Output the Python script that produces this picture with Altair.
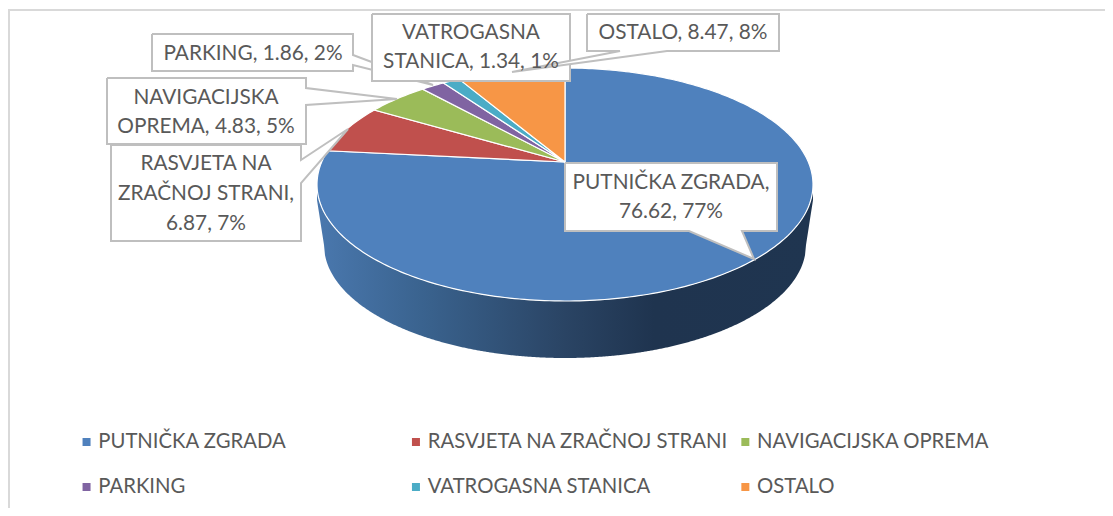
import math
import altair as alt
import pandas as pd

categories = ["PUTNIČKA ZGRADA", "RASVJETA NA ZRAČNOJ STRANI", "NAVIGACIJSKA OPREMA",
              "PARKING", "VATROGASNA STANICA", "OSTALO"]
values = [76.62, 6.87, 4.83, 1.86, 1.34, 8.47]
colors = ["#4f81bd", "#c0504d", "#9bbb59", "#8064a2", "#4bacc6", "#f79646"]

W, H = 1097, 500
FONT = "Lato"
TXT = "#595959"
EDGE = "#bfbfbf"
xs = alt.Scale(domain=[8, 8 + W], range=[0, W])
ys = alt.Scale(domain=[8, 8 + H], range=[0, H])
X = lambda f="x": alt.X(f"{f}:Q", scale=xs, axis=None)
Y = lambda f="y": alt.Y(f"{f}:Q", scale=ys, axis=None)

# tilted-disc projection of the pie circle
CX, APEX, TOP, BOT, HALF_W = 565, 162, 68, 301, 248
C = (TOP + BOT - 2 * APEX) / (BOT - TOP)
A = TOP * (C + 1) - APEX
AX = HALF_W * math.sqrt(1 - C * C)


def proj(t):
    u, v = math.sin(t), math.cos(t)
    d = 1 + C * v
    return CX + AX * u / d, (A * v + APEX) / d


def poly(points, fill, stroke="#ffffff", sw=1.2):
    df = pd.DataFrame(points, columns=["x", "y"])
    df["o"] = range(len(df))
    return alt.Chart(df).mark_line(fill=fill, stroke=stroke, strokeWidth=sw, strokeJoin="miter", clip=False).encode(
        x=X(), y=Y(), order="o:Q")


layers = []

# frame
frame = pd.DataFrame({"x": [9, 9, 1105], "y": [508, 10, 10], "o": [0, 1, 2]})
layers.append(alt.Chart(frame).mark_line(stroke="#d9d9d9", strokeWidth=2).encode(x=X(), y=Y(), order="o:Q"))

# side wall
LOW_CY, LOW_A, LOW_B = 245, 241, 113
EL_CY, EL_B = (TOP + BOT) / 2, (BOT - TOP) / 2
side = []
for px in range(317, 814):
    dx = (px - CX) / HALF_W
    top = EL_CY + EL_B * math.sqrt(max(0, 1 - dx * dx))
    if abs(px - CX) < LOW_A:
        low = LOW_CY + LOW_B * math.sqrt(1 - ((px - CX) / LOW_A) ** 2)
    else:
        low = LOW_CY - 45 * (abs(px - CX) - LOW_A) / (HALF_W - LOW_A)
    side.append({"x": px, "y": top, "y2": max(top, low)})
grad = alt.Gradient(gradient="linear", x1=0, y1=0, x2=1, y2=0, stops=[
    alt.GradientStop(offset=0, color="#4a78ae"),
    alt.GradientStop(offset=0.21, color="#3a638f"),
    alt.GradientStop(offset=0.5, color="#2a4464"),
    alt.GradientStop(offset=0.68, color="#1f344f"),
    alt.GradientStop(offset=1, color="#1f3550"),
])
layers.append(alt.Chart(pd.DataFrame(side)).mark_area(color=grad).encode(
    x=X(), y=Y(), y2="y2:Q"))

# pie top
total = sum(values)
start = 0.0
for val, col in zip(values, colors):
    end = start + val / total * 2 * math.pi
    n = max(4, int((end - start) * 60))
    pts = [(CX, APEX)] + [proj(start + (end - start) * i / n) for i in range(n + 1)] + [(CX, APEX)]
    layers.append(poly(pts, col))
    start = end

# callouts (drawn in back-to-front order)
callouts = [
    [(152, 34), (353, 34), (353, 55), (433, 85), (353, 65), (353, 71), (152, 71), (152, 34)],
    [(111, 145), (301, 145), (301, 160), (348, 129), (301, 183), (301, 241), (111, 241), (111, 145)],
    [(107, 78), (306, 78), (306, 88), (397, 99), (306, 105), (306, 144), (107, 144), (107, 78)],
    [(372, 14), (570, 14), (570, 81), (372, 81), (372, 14)],
    [(587, 14), (779, 14), (779, 51), (667, 51), (512, 72), (620, 51), (587, 51), (587, 14)],
    [(565, 163), (777, 163), (777, 231), (742, 231), (754, 259), (689, 231), (565, 231), (565, 163)],
]
for c in callouts:
    layers.append(poly(c, "#ffffff", EDGE, 2))

# callout text
labels = pd.DataFrame([
    ("PARKING, 1.86, 2%", 253, 54),
    ("NAVIGACIJSKA", 206, 98),
    ("OPREMA, 4.83, 5%", 206, 127),
    ("RASVJETA NA", 206, 164),
    ("ZRAČNOJ STRANI,", 206, 194),
    ("6.87, 7%", 206, 224),
    ("VATROGASNA", 471, 33),
    ("STANICA, 1.34, 1%", 471, 62),
    ("OSTALO, 8.47, 8%", 683, 33),
    ("PUTNIČKA ZGRADA,", 671, 183),
    ("76.62, 77%", 671, 212),
], columns=["t", "x", "y"])
layers.append(alt.Chart(labels).mark_text(font=FONT, fontSize=20.8, color=TXT, align="center", baseline="middle").encode(
    x=X(), y=Y(), text="t:N"))

# legend: hidden points that only feed the colour scale
leg = pd.DataFrame({"t": categories, "x": [8] * 6, "y": [8] * 6})
layers.append(alt.Chart(leg).mark_square(size=1, opacity=0).encode(
    x=X(), y=Y(),
    color=alt.Color("t:N", sort=categories,
                    scale=alt.Scale(domain=categories, range=colors),
                    legend=alt.Legend(
                        title=None, orient="none", legendX=68.4, legendY=421.5, columns=3, gridAlign="all",
                        direction="horizontal",
                        symbolType="square", symbolSize=64, symbolOpacity=1, symbolStrokeWidth=0,
                        labelFont=FONT, labelFontSize=20.3, labelColor=TXT, labelOffset=1.6, labelLimit=400,
                        clipHeight=25, rowPadding=20, columnPadding=6.4, padding=0))))

chart = alt.layer(*layers).properties(
    width=W, height=H, padding=0, autosize=alt.AutoSizeParams(type="none"),
).configure_view(stroke=None)

chart.save("out.html", embed_options={"renderer": "svg", "actions": False})
